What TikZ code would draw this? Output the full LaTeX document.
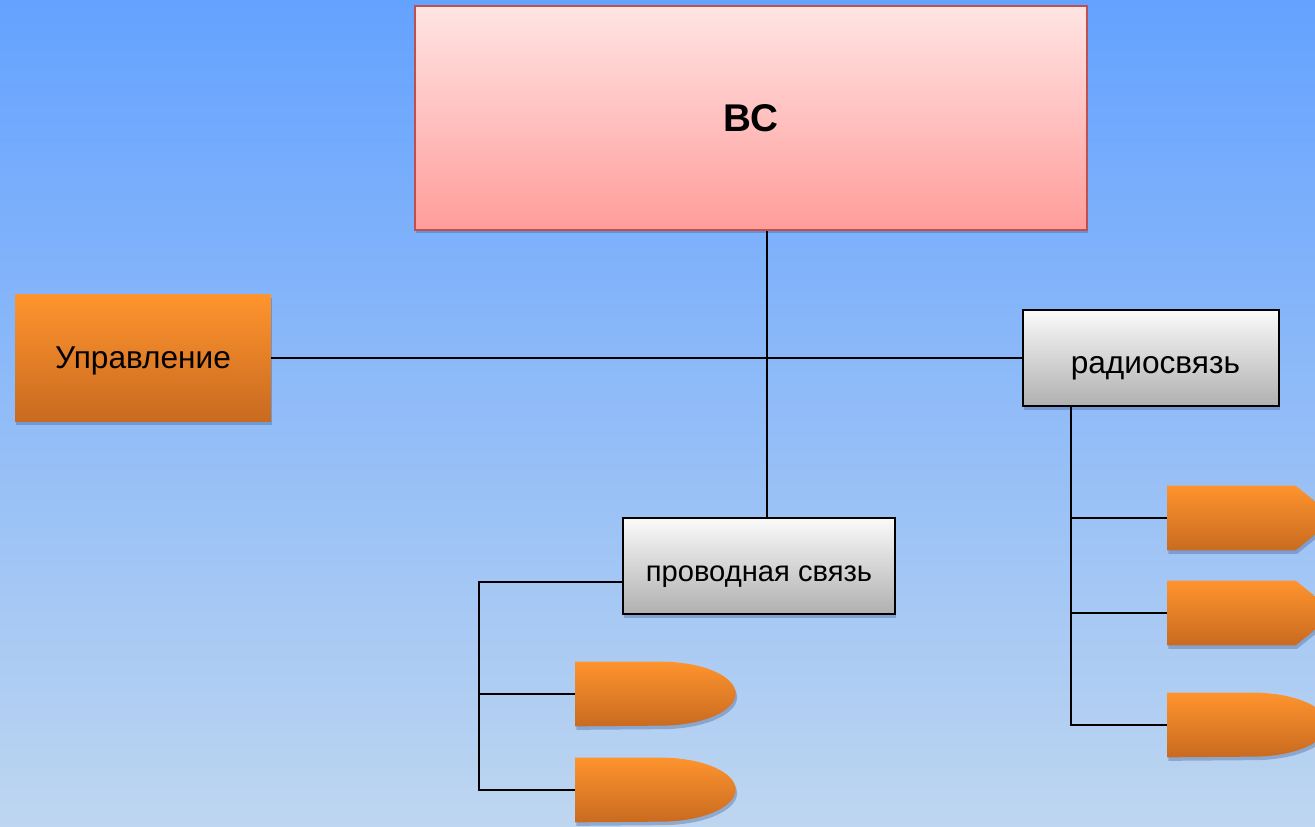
\documentclass[tikz,border=0pt]{standalone}
\usepackage{fontspec}
\setmainfont{Liberation Sans}
\usetikzlibrary{shadows}
\definecolor{skytop}{RGB}{100,162,255}
\definecolor{skybot}{RGB}{190,214,240}
\definecolor{pinktop}{RGB}{255,228,228}
\definecolor{pinkbot}{RGB}{255,157,154}
\definecolor{pinkline}{RGB}{192,80,77}
\definecolor{ortop}{RGB}{255,148,46}
\definecolor{orbot}{RGB}{200,106,32}
\definecolor{greytop}{RGB}{250,250,250}
\definecolor{greybot}{RGB}{176,176,176}
\definecolor{shadowblue}{RGB}{40,70,130}

\begin{document}
\begin{tikzpicture}[x=0.02cm, y=-0.02cm,
    shad/.style = {drop shadow={shadow xshift=0.8pt, shadow yshift=-2pt, fill=shadowblue, opacity=0.3}},
    orfill/.style = {top color=ortop, bottom color=orbot, shad},
    wire/.style = {line width=0.8pt}]
    \clip (0,0) rectangle (1315,827);
    \shade[top color=skytop, bottom color=skybot] (0,0) rectangle (1315,827);
    \tikzstyle{bcbox}=[rectangle, draw=pinkline, line width=1.2pt, top color=pinktop, bottom color=pinkbot, shad,
        minimum width=13.44cm, minimum height=4.48cm, font=\fontsize{22}{26}\selectfont\bfseries]
    \tikzstyle{ctrlbox}=[rectangle, orfill, minimum width=5.12cm, minimum height=2.54cm, text depth=0pt,
        font=\fontsize{18}{21}\selectfont]
    \tikzstyle{linkbox}=[rectangle, draw=black, line width=0.8pt, top color=greytop, bottom color=greybot, shad,
        minimum height=1.92cm, text height=17.5pt, text depth=0pt, font=\fontsize{18}{21}\selectfont]
    \tikzstyle{leaf}=[rectangle, inner sep=0pt, anchor=west, minimum width=3.36cm, minimum height=1.28cm]

    \node[bcbox] (bc) at (751,118) {ВС};
    \node[ctrlbox] (ctrl) at (143,358) {Управление};
    \node[linkbox, minimum width=5.12cm] (radio) at (1151,358) {\hspace{5pt}радиосвязь};
    \node[linkbox, minimum width=5.44cm, font=\fontsize{16.6}{20}\selectfont] (cable) at (759,566) {проводная связь};

    \node[leaf] (r1) at (1167,518) {};
    \node[leaf] (r2) at (1167,613) {};
    \node[leaf] (r3) at (1167,725) {};
    \node[leaf] (c1) at (575,694) {};
    \node[leaf] (c2) at (575,790) {};
    % cut-corner leaves
    \foreach \n in {r1,r2}
        \path[orfill] (\n.north west) -- ([xshift=-0.8cm]\n.north east) -- (\n.east)
            -- ([xshift=-0.8cm]\n.south east) -- (\n.south west) -- cycle;
    % rounded leaves
    \foreach \n in {r3,c1,c2}
        \path[orfill] (\n.north west) -- ([xshift=-1.66cm]\n.north east)
            arc[start angle=90, end angle=-90, x radius=1.5cm, y radius=0.64cm] -- (\n.south west) -- cycle;

    \coordinate (hub) at (767,358);
    \coordinate (rbus) at (1071,725);
    \coordinate (ctap) at (623,582);
    \coordinate (cbus) at (479,790);

    \draw[wire] (bc.south -| hub) -- (cable.north -| hub);
    \draw[wire] (ctrl.east) -- (radio.west);
    \draw[wire] (radio.south -| rbus) -- (rbus) -- (r3.west);
    \draw[wire] (r1.west -| rbus) -- (r1.west);
    \draw[wire] (r2.west -| rbus) -- (r2.west);
    \draw[wire] (ctap) -| (cbus) -- (c2.west);
    \draw[wire] (c1.west -| cbus) -- (c1.west);
\end{tikzpicture}
\end{document}
